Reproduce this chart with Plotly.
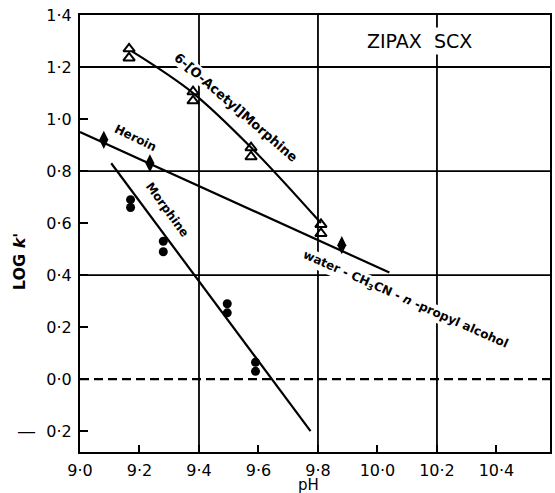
import plotly.graph_objects as go

# ---- data ----
heroin_ph = [9.08, 9.235, 9.88]
heroin_logk = [0.92, 0.83, 0.515]
heroin_fit_ph = [9.0, 10.04]
heroin_fit_logk = [0.95, 0.41]

acetyl_ph = [9.165, 9.165, 9.38, 9.38, 9.575, 9.575, 9.81, 9.81]
acetyl_logk = [1.27, 1.235, 1.105, 1.07, 0.89, 0.855, 0.595, 0.56]
acetyl_fit_ph = [9.175, 9.38, 9.58, 9.81]
acetyl_fit_logk = [1.26, 1.10, 0.885, 0.60]

morphine_ph = [9.17, 9.17, 9.28, 9.28, 9.495, 9.495, 9.59, 9.59]
morphine_logk = [0.69, 0.66, 0.53, 0.49, 0.29, 0.255, 0.065, 0.03]
morphine_fit_ph = [9.105, 9.775]
morphine_fit_logk = [0.83, -0.20]

x_tickvals = [9.0, 9.2, 9.4, 9.6, 9.8, 10.0, 10.2, 10.4]
x_ticktext = ["9·0", "9·2", "9·4", "9·6", "9·8", "10·0", "10·2", "10·4"]
y_tickvals = [-0.2, 0.0, 0.2, 0.4, 0.6, 0.8, 1.0, 1.2, 1.4]
y_ticktext = ["0·2", "0·0", "0·2", "0·4", "0·6", "0·8", "1·0", "1·2", "1·4"]
grid_x = [9.4, 9.8, 10.2]
grid_y = [0.4, 0.8, 1.2]

FONT = "DejaVu Sans"
LBL = dict(family=FONT, size=12, color="black", weight="bold")

fig = go.Figure()

# fitted lines
fig.add_trace(go.Scatter(x=heroin_fit_ph, y=heroin_fit_logk, mode="lines",
                         line=dict(color="black", width=2.2), showlegend=False))
fig.add_trace(go.Scatter(x=acetyl_fit_ph, y=acetyl_fit_logk, mode="lines",
                         line=dict(color="black", width=2.2, shape="spline"), showlegend=False))
fig.add_trace(go.Scatter(x=morphine_fit_ph, y=morphine_fit_logk, mode="lines",
                         line=dict(color="black", width=2.2), showlegend=False))

# points
fig.add_trace(go.Scatter(x=heroin_ph, y=heroin_logk, mode="markers",
                         marker=dict(symbol="diamond-tall", size=13, color="black"),
                         showlegend=False))
fig.add_trace(go.Scatter(x=acetyl_ph, y=acetyl_logk, mode="markers",
                         marker=dict(symbol="triangle-up-open", size=10, color="black",
                                     line=dict(width=2, color="black")),
                         showlegend=False))
fig.add_trace(go.Scatter(x=morphine_ph, y=morphine_logk, mode="markers",
                         marker=dict(symbol="circle", size=9, color="black"),
                         showlegend=False))

shapes = []
for gx in grid_x:
    shapes.append(dict(type="line", xref="x", yref="paper", x0=gx, x1=gx, y0=0, y1=1,
                       line=dict(color="black", width=1.8), layer="below"))
for gy in grid_y:
    shapes.append(dict(type="line", xref="paper", yref="y", x0=0, x1=1, y0=gy, y1=gy,
                       line=dict(color="black", width=1.8), layer="below"))
shapes.append(dict(type="line", xref="paper", yref="y", x0=0, x1=1, y0=0, y1=0,
                   line=dict(color="black", width=2.2, dash="9px,5px"), layer="below"))

annotations = [
    dict(x=9.187, y=0.927, text="Heroin", textangle=26, showarrow=False, font=LBL),
    dict(x=9.294, y=0.65, text="Morphine", textangle=54, showarrow=False, font=LBL),
    dict(x=9.525, y=1.045, text="6-[O-Acetyl]Morphine", textangle=41, showarrow=False,
         font=dict(family=FONT, size=13, color="black", weight="bold"),
         bgcolor="white", borderpad=0),
    dict(x=10.094, y=0.305, text="water - CH<sub>3</sub>CN - <i>n</i> -propyl alcohol",
         textangle=24, showarrow=False, font=LBL, bgcolor="white", borderpad=0),
    dict(x=10.14, y=1.30, text="ZIPAX  SCX", showarrow=False,
         font=dict(family=FONT, size=19, color="black"), bgcolor="white", borderpad=2),
    dict(xref="paper", yref="paper", x=-0.127, y=0.435, xanchor="center", yanchor="middle",
         text="<b>LOG <i>k'</i></b>", textangle=-90, showarrow=False,
         font=dict(family=FONT, size=16, color="black")),
    dict(xref="paper", yref="paper", x=0.486, y=-0.075, xanchor="center", yanchor="middle",
         text="pH", showarrow=False, font=dict(family=FONT, size=15, color="black")),
    dict(xref="paper", yref="y", x=-0.114, y=-0.2, xanchor="center", yanchor="middle",
         text="—", showarrow=False, font=dict(family=FONT, size=19, color="black")),
]

fig.update_layout(
    width=555, height=493,
    margin=dict(l=80, r=3, t=15, b=41),
    paper_bgcolor="white", plot_bgcolor="white",
    shapes=shapes, annotations=annotations,
    font=dict(family=FONT, size=16, color="black"),
    xaxis=dict(range=[9.0, 10.58], tickvals=x_tickvals, ticktext=x_ticktext,
               ticks="inside", ticklen=7, tickwidth=2, tickcolor="black",
               showgrid=False, zeroline=False, showline=True, linewidth=2.2,
               linecolor="black", mirror=True, ticklabelstandoff=3,
               tickfont=dict(family=FONT, size=16, color="black")),
    yaxis=dict(range=[-0.28, 1.4], tickvals=y_tickvals, ticktext=y_ticktext,
               ticks="inside", ticklen=8, tickwidth=2, tickcolor="black",
               showgrid=False, zeroline=False, showline=True, linewidth=2.2,
               linecolor="black", mirror=True, ticklabelstandoff=3,
               tickfont=dict(family=FONT, size=16, color="black")),
)

fig.write_html("out.html")
